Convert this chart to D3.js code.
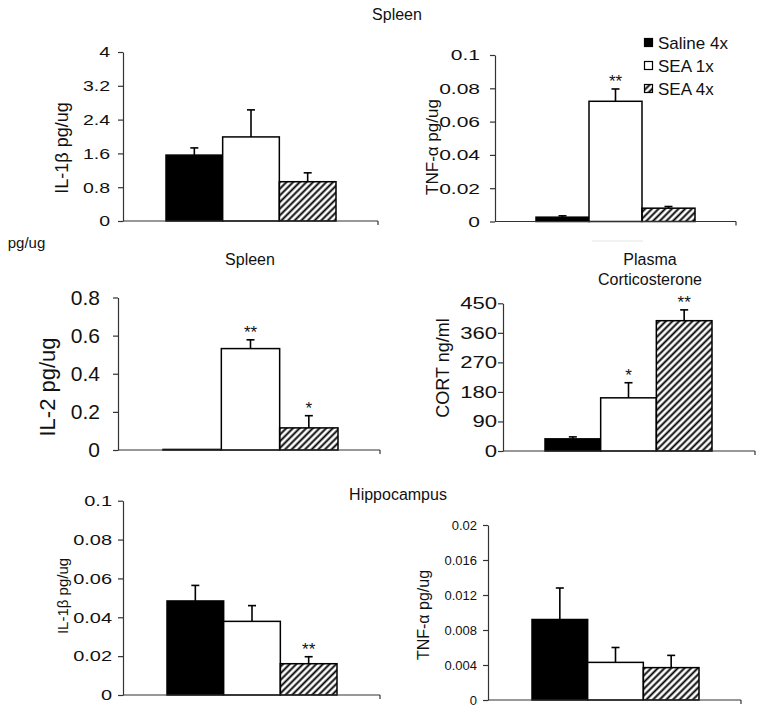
<!DOCTYPE html>
<html>
<head>
<meta charset="utf-8">
<script src="https://cdn.jsdelivr.net/npm/d3@7"></script>
<style>
  html, body { margin: 0; padding: 0; background: #fff; }
  svg { display: block; font-family: "Liberation Sans", Arial, Helvetica, sans-serif; }
</style>
</head>
<body>
<svg id="chart" width="762" height="713"></svg>
<script>
// ---------------- DATA ----------------
const groups = ["Saline 4x", "SEA 1x", "SEA 4x"];

const spleenIL1bMean = [1.56, 1.99, 0.93];
const spleenIL1bErr  = [0.17, 0.64, 0.21];
const spleenIL1bSig  = ["", "", ""];
const spleenIL1bTicks = [0, 0.8, 1.6, 2.4, 3.2, 4];

const spleenTNFMean = [0.0026, 0.0722, 0.0080];
const spleenTNFErr  = [0.0008, 0.0074, 0.0010];
const spleenTNFSig  = ["", "**", ""];
const spleenTNFTicks = [0, 0.02, 0.04, 0.06, 0.08, 0.1];

const spleenIL2Mean = [0.003, 0.532, 0.116];
const spleenIL2Err  = [0.0, 0.046, 0.064];
const spleenIL2Sig  = ["", "**", "*"];
const spleenIL2Ticks = [0, 0.2, 0.4, 0.6, 0.8];

const cortMean = [37, 162, 397];
const cortErr  = [6, 46, 33];
const cortSig  = ["", "*", "**"];
const cortTicks = [0, 90, 180, 270, 360, 450];

const hippoIL1bMean = [0.0484, 0.0379, 0.0161];
const hippoIL1bErr  = [0.0080, 0.0081, 0.0036];
const hippoIL1bSig  = ["", "", "**"];
const hippoIL1bTicks = [0, 0.02, 0.04, 0.06, 0.08, 0.1];

const hippoTNFMean = [0.0092, 0.0043, 0.0037];
const hippoTNFErr  = [0.0036, 0.0017, 0.0014];
const hippoTNFSig  = ["", "", ""];
const hippoTNFTicks = [0, 0.004, 0.008, 0.012, 0.016, 0.02];

// ---------------- LAYOUT ----------------
const panels = [
  { mean: spleenIL1bMean, err: spleenIL1bErr, sig: spleenIL1bSig, ticks: spleenIL1bTicks,
    label: "IL-1β pg/ug", axisX: 123, xEnd: 378, yTop: 52, yZero: 221, barL: 166, barR: 336,
    tickFont: 15, tickStretch: 1.3, tickGap: 8, labelFont: 18, labelX: 62, labelY: 148 },
  { mean: spleenTNFMean, err: spleenTNFErr, sig: spleenTNFSig, ticks: spleenTNFTicks,
    label: "TNF-α pg/ug", axisX: 495, xEnd: 736, yTop: 55, yZero: 221.5, barL: 536, barR: 695,
    tickFont: 15, tickStretch: 1.4, tickGap: 10, labelFont: 17, labelX: 432, labelY: 147 },
  { mean: spleenIL2Mean, err: spleenIL2Err, sig: spleenIL2Sig, ticks: spleenIL2Ticks,
    label: "IL-2 pg/ug", axisX: 118, xEnd: 380, yTop: 297.5, yZero: 450, barL: 163, barR: 338,
    tickFont: 21, tickStretch: 1.0, tickGap: 13, labelFont: 22, labelX: 47, labelY: 387 },
  { mean: cortMean, err: cortErr, sig: cortSig, ticks: cortTicks,
    label: "CORT ng/ml", axisX: 503, xEnd: 755, yTop: 303.3, yZero: 451, barL: 545, barR: 712,
    tickFont: 17, tickStretch: 1.3, tickGap: 1, labelFont: 18, labelX: 443, labelY: 368 },
  { mean: hippoIL1bMean, err: hippoIL1bErr, sig: hippoIL1bSig, ticks: hippoIL1bTicks,
    label: "IL-1β pg/ug", axisX: 123, xEnd: 380, yTop: 500.7, yZero: 695, barL: 167, barR: 337,
    tickFont: 15, tickStretch: 1.33, tickGap: 6, labelFont: 15, labelX: 62, labelY: 596 },
  { mean: hippoTNFMean, err: hippoTNFErr, sig: hippoTNFSig, ticks: hippoTNFTicks,
    label: "TNF-α pg/ug", axisX: 488, xEnd: 741, yTop: 525, yZero: 700, barL: 532, barR: 699,
    tickFont: 13, tickStretch: 1.0, tickGap: 6, labelFont: 16, labelX: 423, labelY: 615 }
];

function stretch(sel, k) {
  if (k === 1) return;
  sel.each(function () {
    const len = this.getComputedTextLength();
    d3.select(this).attr("textLength", len * k).attr("lengthAdjust", "spacingAndGlyphs");
  });
}

const svg = d3.select("#chart");
const defs = svg.append("defs");
defs.append("pattern")
  .attr("id", "hatch")
  .attr("patternUnits", "userSpaceOnUse")
  .attr("width", 4.7).attr("height", 4.7)
  .attr("patternTransform", "rotate(45)")
  .append("line")
  .attr("x1", 2.35).attr("y1", -1).attr("x2", 2.35).attr("y2", 5.7)
  .attr("stroke", "#000").attr("stroke-width", 1.9);

const fills = ["#000", "#fff", "url(#hatch)"];
const axisColor = "#333";

panels.forEach(p => {
  const maxV = p.ticks[p.ticks.length - 1];
  const y = d3.scaleLinear().domain([0, maxV]).range([p.yZero, p.yTop]);
  const x = d3.scaleBand().domain(groups).range([p.barL, p.barR]).padding(0);
  const g = svg.append("g");

  // y axis
  const ya = d3.axisLeft(y).tickValues(p.ticks).tickSize(5).tickSizeOuter(0)
    .tickPadding(p.tickGap).tickFormat(d => String(+d.toFixed(4)));
  const yg = g.append("g").attr("transform", `translate(${p.axisX},0)`).call(ya);
  yg.select(".domain").attr("stroke", axisColor).attr("stroke-width", 1.2);
  yg.selectAll(".tick line").attr("stroke", axisColor).attr("stroke-width", 1.2);
  const tt = yg.selectAll(".tick text").attr("fill", "#111").attr("font-size", p.tickFont)
    .attr("font-family", "Liberation Sans, Arial, sans-serif");
  stretch(tt, p.tickStretch);

  // bars
  g.selectAll("rect.bar").data(groups).enter().append("rect")
    .attr("x", d => x(d)).attr("width", x.bandwidth())
    .attr("y", (d, i) => y(p.mean[i]))
    .attr("height", (d, i) => y(0) - y(p.mean[i]))
    .attr("fill", (d, i) => fills[i])
    .attr("stroke", "#000").attr("stroke-width", 1.5);

  // error bars
  groups.forEach((d, i) => {
    if (p.err[i] <= 0) return;
    const cx = x(d) + x.bandwidth() / 2;
    const y0 = y(p.mean[i]), y1 = y(p.mean[i] + p.err[i]);
    g.append("line").attr("x1", cx).attr("x2", cx).attr("y1", y0).attr("y2", y1)
      .attr("stroke", "#000").attr("stroke-width", 1.6);
    g.append("line").attr("x1", cx - 4).attr("x2", cx + 4).attr("y1", y1).attr("y2", y1)
      .attr("stroke", "#000").attr("stroke-width", 1.6);
  });

  // significance
  groups.forEach((d, i) => {
    if (!p.sig[i]) return;
    const cx = x(d) + x.bandwidth() / 2;
    g.append("text").attr("x", cx).attr("y", y(p.mean[i] + p.err[i]) - 2)
      .attr("text-anchor", "middle").attr("font-size", 17).attr("fill", "#111")
      .text(p.sig[i]);
  });

  // x axis
  g.append("line").attr("x1", p.axisX).attr("x2", p.xEnd)
    .attr("y1", y(0)).attr("y2", y(0)).attr("stroke", axisColor).attr("stroke-width", 1.2);
  g.append("line").attr("x1", p.xEnd).attr("x2", p.xEnd)
    .attr("y1", y(0)).attr("y2", y(0) + 4).attr("stroke", axisColor).attr("stroke-width", 1.2);

  // y label
  g.append("text")
    .attr("transform", `translate(${p.labelX},${p.labelY}) rotate(-90)`)
    .attr("text-anchor", "middle").attr("dominant-baseline", "central")
    .attr("font-size", p.labelFont).attr("fill", "#111")
    .text(p.label);
});

// titles
const titles = [
  { t: "Spleen", x: 397, y: 20, s: 16 },
  { t: "pg/ug", x: 26.5, y: 248, s: 15 },
  { t: "Spleen", x: 250, y: 265, s: 16 },
  { t: "Plasma", x: 650, y: 265, s: 16 },
  { t: "Corticosterone", x: 650, y: 285, s: 16 },
  { t: "Hippocampus", x: 398, y: 500, s: 16 }
];
svg.selectAll("text.title").data(titles).enter().append("text")
  .attr("class", "title")
  .attr("x", d => d.x).attr("y", d => d.y)
  .attr("text-anchor", "middle").attr("font-size", d => d.s).attr("fill", "#111")
  .text(d => d.t);

// faint artifact line
svg.append("line").attr("x1", 592).attr("x2", 643).attr("y1", 241).attr("y2", 241)
  .attr("stroke", "#e4e4e4").attr("stroke-width", 1);

// legend
const legend = svg.append("g");
groups.forEach((gname, i) => {
  const ly = 43 + i * 23;
  legend.append("rect").attr("x", 644.5).attr("y", ly - 4.5).attr("width", 8).attr("height", 8)
    .attr("fill", fills[i]).attr("stroke", "#000").attr("stroke-width", 1.2);
  legend.append("text").attr("x", 658).attr("y", ly).attr("dominant-baseline", "central")
    .attr("font-size", 17).attr("fill", "#111").text(gname);
});
</script>
</body>
</html>
